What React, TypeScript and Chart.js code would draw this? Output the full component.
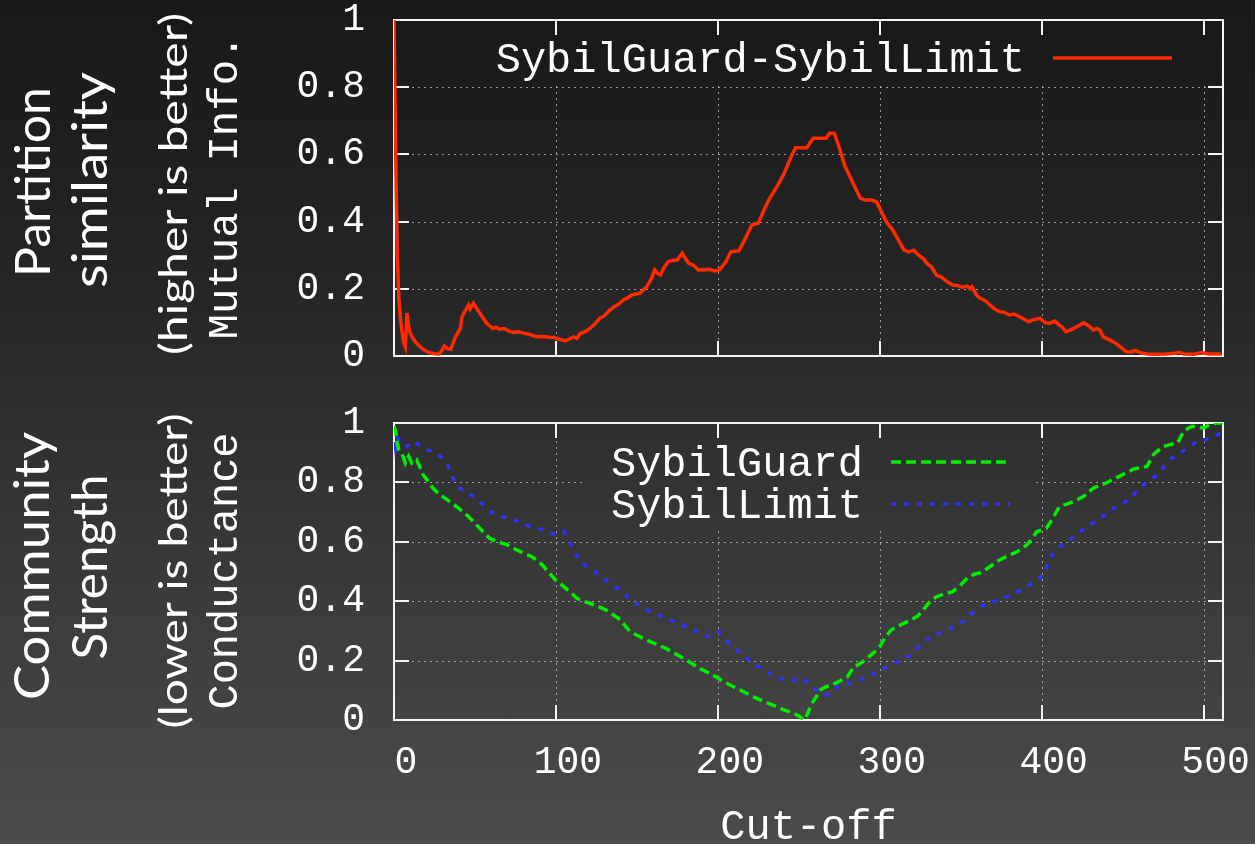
import React, { useEffect, useRef } from "react";
import { Chart, registerables } from "chart.js";

Chart.register(...registerables);

// ---------- data ----------
const xTicks = [0, 100, 200, 300, 400, 500];
const yTicks = [0, 0.2, 0.4, 0.6, 0.8, 1];
const xMax = 512;

const mutualLabel = "SybilGuard-SybilLimit";
const mutualX = [
  0, 1, 2, 3, 4, 5, 6, 7, 8, 9, 10, 12, 14, 16, 18, 20, 22, 25, 28, 30, 31, 33, 35, 38, 41, 42, 44, 46, 47, 49,
  51, 53, 55, 57, 59, 61, 63, 65, 68, 71, 74, 77, 80, 84, 88, 92, 96, 99, 102, 106, 108, 111, 113, 115, 118,
  121, 124, 127, 130, 133, 136, 139, 142, 144, 147, 152, 156, 159, 161, 163, 164.5, 167, 169.5, 172, 175, 178,
  180, 182, 185, 188, 192, 195, 198, 201, 205, 208, 213, 217, 221, 225, 229, 232, 236, 241, 245, 248, 252, 255,
  257, 259, 263, 267, 269, 272, 275, 278.6, 282, 285, 288, 291, 295, 298, 301, 304, 308, 311, 315, 318, 321,
  324, 327, 329, 332, 335, 338, 342, 345, 348, 351, 354, 356, 357, 360, 362, 365, 368, 371, 374, 377, 380, 383,
  386, 389, 392, 395, 399, 402, 405, 408, 411, 413, 415, 418, 422, 426, 429, 432, 434, 436, 438, 441, 444, 447,
  450, 452, 455, 458, 461, 465, 470, 477, 482, 485, 488, 494, 499, 503, 511,
];
const mutualY = [
  1.0, 0.62, 0.3, 0.17, 0.11, 0.07, 0.04, 0.027, 0.128, 0.09, 0.068, 0.05, 0.038, 0.028, 0.02, 0.014, 0.01,
  0.007, 0.006, 0.02, 0.03, 0.022, 0.02, 0.057, 0.082, 0.117, 0.135, 0.152, 0.14, 0.157, 0.142, 0.127, 0.113,
  0.099, 0.09, 0.082, 0.086, 0.08, 0.082, 0.074, 0.07, 0.072, 0.068, 0.064, 0.057, 0.058, 0.056, 0.055, 0.05,
  0.045, 0.05, 0.057, 0.052, 0.067, 0.072, 0.082, 0.095, 0.112, 0.12, 0.135, 0.147, 0.155, 0.168, 0.172, 0.182,
  0.187, 0.206, 0.23, 0.256, 0.245, 0.241, 0.265, 0.281, 0.284, 0.286, 0.306, 0.29, 0.276, 0.27, 0.256, 0.257,
  0.258, 0.253, 0.256, 0.28, 0.31, 0.313, 0.35, 0.39, 0.395, 0.44, 0.469, 0.5, 0.543, 0.59, 0.62, 0.62, 0.62,
  0.635, 0.648, 0.648, 0.648, 0.663, 0.663, 0.62, 0.564, 0.53, 0.499, 0.47, 0.464, 0.464, 0.459, 0.43, 0.4,
  0.375, 0.35, 0.315, 0.31, 0.315, 0.3, 0.29, 0.276, 0.265, 0.241, 0.235, 0.22, 0.211, 0.21, 0.205, 0.208, 0.2,
  0.206, 0.18, 0.172, 0.165, 0.152, 0.14, 0.132, 0.13, 0.122, 0.125, 0.118, 0.11, 0.102, 0.108, 0.112, 0.1,
  0.097, 0.104, 0.092, 0.085, 0.072, 0.078, 0.088, 0.099, 0.09, 0.077, 0.082, 0.077, 0.057, 0.05, 0.043, 0.033,
  0.022, 0.013, 0.012, 0.016, 0.01, 0.006, 0.005, 0.006, 0.008, 0.011, 0.006, 0.005, 0.01, 0.006, 0.006,
];

const guardLabel = "SybilGuard";
const guardX = [
  0, 1, 2, 3, 5, 7, 9, 11, 14, 18, 24, 28, 33, 37, 41, 45, 49, 54, 59, 64, 70, 75, 80, 85, 88, 92, 96, 100, 105,
  109, 113, 117, 121, 126, 131, 135, 140, 143, 146, 151, 156, 162, 168, 173, 179, 184, 189, 194, 199, 204, 210,
  216, 222, 228, 234, 240, 247, 251, 253, 255, 258, 261, 263, 266, 270, 275, 280, 284, 288, 292, 296, 300, 303,
  307, 312, 317, 323, 327, 330, 335, 340, 345, 350, 354, 358, 362, 368, 374, 379, 385, 391, 394, 397, 403, 407,
  411, 415, 420, 426, 432, 436, 440, 444, 448, 452, 457, 461, 465, 469, 472, 475, 480, 484, 488, 493, 497, 500,
  504, 508, 512,
];
const guardY = [
  0.99, 0.97, 0.93, 0.91, 0.895, 0.865, 0.888, 0.865, 0.876, 0.826, 0.781, 0.76, 0.741, 0.725, 0.708, 0.69,
  0.668, 0.64, 0.612, 0.6, 0.59, 0.575, 0.562, 0.55, 0.539, 0.52, 0.494, 0.47, 0.449, 0.43, 0.41, 0.4, 0.393,
  0.383, 0.37, 0.355, 0.337, 0.315, 0.297, 0.283, 0.269, 0.255, 0.241, 0.225, 0.207, 0.19, 0.173, 0.16, 0.145,
  0.128, 0.111, 0.095, 0.078, 0.064, 0.05, 0.036, 0.022, 0.01, 0.0, 0.016, 0.055, 0.08, 0.1, 0.11, 0.117, 0.13,
  0.145, 0.179, 0.19, 0.207, 0.225, 0.246, 0.275, 0.303, 0.318, 0.331, 0.348, 0.37, 0.393, 0.415, 0.425, 0.432,
  0.455, 0.477, 0.49, 0.496, 0.516, 0.539, 0.552, 0.567, 0.59, 0.61, 0.634, 0.646, 0.68, 0.719, 0.726, 0.736,
  0.753, 0.781, 0.79, 0.798, 0.81, 0.82, 0.832, 0.845, 0.85, 0.854, 0.893, 0.908, 0.921, 0.928, 0.933, 0.975,
  0.989, 0.985, 0.983, 0.995, 1.0, 1.0,
];

const limitLabel = "SybilLimit";
const limitX = [
  0, 1, 2, 3, 5, 8, 12, 16, 20, 24, 27.5, 30, 33, 36, 39, 44, 49, 53, 57, 60, 63.5, 68, 74, 79, 84, 88, 92, 96,
  100, 103, 105, 107, 109, 113, 116, 119, 123, 127, 132, 138, 143, 148, 154, 160, 165, 171, 177, 183, 188, 194,
  198, 200.4, 204, 208, 213, 218, 223, 228, 233, 238.5, 244, 250, 252, 255, 259, 262, 265, 267, 271, 275.5, 280,
  284, 288, 292, 296, 300.5, 305, 311, 315, 319, 322, 325, 329, 333.5, 338, 342, 346, 350, 354, 358, 362, 366,
  370, 374, 381, 388, 392, 395, 398, 401.5, 404.5, 407, 410, 416, 422, 426, 430, 436.5, 442.6, 449, 455, 458,
  461, 466, 470, 473.4, 477.5, 480, 484, 490, 496, 500.7, 506, 511,
];
const limitY = [
  0.98, 0.92, 0.95, 0.944, 0.944, 0.921, 0.938, 0.925, 0.91, 0.905, 0.893, 0.88, 0.86, 0.82, 0.786, 0.77, 0.753,
  0.735, 0.713, 0.7, 0.691, 0.683, 0.674, 0.662, 0.651, 0.646, 0.64, 0.632, 0.623, 0.63, 0.634, 0.615, 0.595,
  0.55, 0.53, 0.516, 0.503, 0.488, 0.466, 0.443, 0.42, 0.398, 0.378, 0.359, 0.348, 0.336, 0.322, 0.308, 0.295,
  0.28, 0.29, 0.297, 0.275, 0.252, 0.23, 0.207, 0.188, 0.168, 0.154, 0.14, 0.135, 0.134, 0.14, 0.128, 0.111,
  0.094, 0.085, 0.083, 0.1, 0.117, 0.122, 0.128, 0.136, 0.145, 0.156, 0.168, 0.18, 0.196, 0.207, 0.218, 0.235,
  0.252, 0.27, 0.286, 0.295, 0.303, 0.315, 0.325, 0.345, 0.364, 0.38, 0.393, 0.398, 0.404, 0.421, 0.438, 0.452,
  0.466, 0.477, 0.488, 0.539, 0.56, 0.579, 0.601, 0.629, 0.643, 0.657, 0.68, 0.708, 0.725, 0.747, 0.765, 0.786,
  0.803, 0.82, 0.837, 0.865, 0.88, 0.893, 0.916, 0.938, 0.944, 0.955, 0.966,
];

// ---------- styling ----------
const MONO = '"Liberation Mono", "DejaVu Sans Mono", monospace';
const SANS = 'Lato, "Open Sans", sans-serif';
const W = 1255;
const TOP_H = 390;
const BOT_H = 454;

const RED = "#ff2a00";
const GREEN = "#00ee00";
const BLUE = "#3030ff";

type Title = { text: string; font: string; x: number; y: number; len: number };
type Legend = { right: number; baseline: number; gap: number };
type Mask = { x: number; y: number; w: number; h: number };
type FrameCfg = { mask: Mask; titles: Title[]; legend: Legend };

function makeFramePlugin(cfg: FrameCfg) {
  return {
    id: "gnuFrame",
    beforeDatasetsDraw(chart: any) {
      const { ctx, chartArea: a, scales } = chart;
      const xs = scales.x;
      const ys = scales.y;
      // dotted grid, hidden behind the key
      ctx.save();
      ctx.beginPath();
      ctx.rect(a.left, a.top, a.right - a.left, a.bottom - a.top);
      const m = cfg.mask;
      ctx.rect(m.x, m.y, m.w, m.h);
      ctx.clip("evenodd");
      ctx.strokeStyle = "rgba(205,205,205,0.7)";
      ctx.lineWidth = 1;
      ctx.setLineDash([2, 4]);
      ctx.beginPath();
      xs.ticks.forEach((t: any) => {
        const px = Math.round(xs.getPixelForValue(t.value)) + 0.5;
        if (px > a.left + 3 && px < a.right - 3) {
          ctx.moveTo(px, a.top);
          ctx.lineTo(px, a.bottom);
        }
      });
      ys.ticks.forEach((t: any) => {
        const py = Math.round(ys.getPixelForValue(t.value)) + 0.5;
        if (py > a.top + 3 && py < a.bottom - 3) {
          ctx.moveTo(a.left, py);
          ctx.lineTo(a.right, py);
        }
      });
      ctx.stroke();
      ctx.restore();

      // border and inward tick marks
      ctx.save();
      ctx.strokeStyle = "#f4f4f4";
      ctx.lineWidth = 2;
      ctx.setLineDash([]);
      ctx.strokeRect(a.left, a.top, a.right - a.left, a.bottom - a.top);
      const L = 15;
      ctx.beginPath();
      xs.ticks.forEach((t: any) => {
        const px = Math.round(xs.getPixelForValue(t.value));
        if (px > a.left + 3 && px < a.right - 3) {
          ctx.moveTo(px, a.bottom);
          ctx.lineTo(px, a.bottom - L);
          ctx.moveTo(px, a.top);
          ctx.lineTo(px, a.top + L);
        }
      });
      ys.ticks.forEach((t: any) => {
        const py = Math.round(ys.getPixelForValue(t.value));
        if (py > a.top + 3 && py < a.bottom - 3) {
          ctx.moveTo(a.left, py);
          ctx.lineTo(a.left + L, py);
          ctx.moveTo(a.right, py);
          ctx.lineTo(a.right - L, py);
        }
      });
      ctx.stroke();
      ctx.restore();
    },
    afterDraw(chart: any) {
      const { ctx } = chart;
      // key
      const lg = cfg.legend;
      chart.data.datasets.forEach((ds: any, i: number) => {
        const base = lg.baseline + i * lg.gap;
        ctx.save();
        ctx.font = `42px ${MONO}`;
        ctx.fillStyle = "#ffffff";
        ctx.textAlign = "right";
        ctx.textBaseline = "alphabetic";
        ctx.fillText(ds.label, lg.right, base);
        ctx.strokeStyle = ds.borderColor;
        ctx.lineWidth = ds.borderWidth;
        ctx.setLineDash(ds.borderDash || []);
        ctx.beginPath();
        ctx.moveTo(lg.right + 28, base - 14);
        ctx.lineTo(lg.right + 147, base - 14);
        ctx.stroke();
        ctx.restore();
      });
      // rotated axis titles
      cfg.titles.forEach((t) => {
        ctx.save();
        ctx.font = t.font;
        const w = ctx.measureText(t.text).width;
        ctx.translate(t.x, t.y);
        ctx.rotate(-Math.PI / 2);
        ctx.scale(t.len / w, 1);
        ctx.textAlign = "center";
        ctx.textBaseline = "alphabetic";
        ctx.fillStyle = "#ffffff";
        ctx.fillText(t.text, 0, 0);
        ctx.restore();
      });
    },
  };
}

function series(label: string, xs: number[], ys: number[], color: string, dash: number[]) {
  return {
    label,
    data: xs.map((x, i) => ({ x, y: ys[i] })),
    borderColor: color,
    borderWidth: 3.5,
    borderDash: dash,
    pointRadius: 0,
    fill: false,
    tension: 0,
  };
}

function noPad(s: any) {
  s.paddingTop = 0;
  s.paddingBottom = 0;
  s.paddingLeft = 0;
  s.paddingRight = 0;
}

function makeConfig(datasets: any[], cfg: FrameCfg, bottom: boolean): any {
  return {
    type: "line",
    data: { datasets },
    plugins: [makeFramePlugin(cfg)],
    options: {
      animation: false,
      responsive: false,
      devicePixelRatio: 1,
      events: [],
      layout: {
        padding: bottom
          ? { left: 0, top: 33, right: 32, bottom: 0 }
          : { left: 0, top: 20, right: 32, bottom: 34 },
      },
      plugins: { legend: { display: false }, tooltip: { enabled: false }, title: { display: false } },
      scales: {
        x: {
          type: "linear",
          position: "bottom",
          min: 0,
          max: xMax,
          afterBuildTicks: (s: any) => {
            s.ticks = xTicks.map((v) => ({ value: v }));
          },
          afterFit: (s: any) => {
            s.height = bottom ? 124 : 0;
            noPad(s);
          },
          grid: { display: false, drawTicks: false },
          border: { display: false },
          ticks: {
            display: bottom,
            font: { family: MONO, size: 38 },
            color: "#ffffff",
            padding: 20,
            labelOffset: 12,
            maxRotation: 0,
            autoSkip: false,
            callback: (v: any) => String(v),
          },
          title: {
            display: bottom,
            text: "Cut-off",
            font: { family: MONO, size: 42 },
            color: "#ffffff",
            padding: { top: 0, bottom: -9 },
          },
        },
        y: {
          type: "linear",
          position: "left",
          min: 0,
          max: 1,
          afterBuildTicks: (s: any) => {
            s.ticks = yTicks.map((v) => ({ value: v }));
          },
          afterFit: (s: any) => {
            s.width = 394;
            noPad(s);
          },
          grid: { display: false, drawTicks: false },
          border: { display: false },
          ticks: {
            font: { family: MONO, size: 38 },
            color: "#ffffff",
            padding: 29,
            autoSkip: false,
            callback: (v: any) => String(v),
          },
        },
      },
    },
  };
}

const topFrame: FrameCfg = {
  mask: { x: 470, y: 21, w: 745, h: 62 },
  legend: { right: 1025, baseline: 72, gap: 42 },
  titles: [
    { text: "Partition", font: `48px ${SANS}`, x: 50, y: 182, len: 190 },
    { text: "similarity", font: `48px ${SANS}`, x: 107, y: 180, len: 216 },
    { text: "(higher is better)", font: `38px ${SANS}`, x: 187, y: 184, len: 342 },
    { text: "Mutual Info.", font: `42px ${MONO}`, x: 237, y: 187, len: 305 },
  ],
};

const bottomFrame: FrameCfg = {
  mask: { x: 583, y: 33, w: 452, h: 104 },
  legend: { right: 863, baseline: 86, gap: 42 },
  titles: [
    { text: "Community", font: `48px ${SANS}`, x: 49, y: 176, len: 268 },
    { text: "Strength", font: `48px ${SANS}`, x: 107, y: 177, len: 185 },
    { text: "(lower is better)", font: `38px ${SANS}`, x: 187, y: 181, len: 315 },
    { text: "Conductance", font: `42px ${MONO}`, x: 237, y: 181, len: 277 },
  ],
};

export default function App() {
  const topRef = useRef<HTMLCanvasElement>(null);
  const botRef = useRef<HTMLCanvasElement>(null);

  useEffect(() => {
    const top = new Chart(
      topRef.current as HTMLCanvasElement,
      makeConfig([series(mutualLabel, mutualX, mutualY, RED, [])], topFrame, false)
    );
    const bot = new Chart(
      botRef.current as HTMLCanvasElement,
      makeConfig(
        [
          series(guardLabel, guardX, guardY, GREEN, [10, 5]),
          series(limitLabel, limitX, limitY, BLUE, [5, 8]),
        ],
        bottomFrame,
        true
      )
    );
    return () => {
      top.destroy();
      bot.destroy();
    };
  }, []);

  return (
    <div
      style={{
        position: "fixed",
        left: 0,
        top: 0,
        width: W,
        height: 844,
        overflow: "hidden",
        background: "linear-gradient(180deg, #181818 0%, #262626 35%, #383838 65%, #4b4b4b 100%)",
      }}
    >
      <canvas ref={topRef} width={W} height={TOP_H} style={{ position: "absolute", left: 0, top: 0 }} />
      <canvas ref={botRef} width={W} height={BOT_H} style={{ position: "absolute", left: 0, top: TOP_H }} />
    </div>
  );
}
